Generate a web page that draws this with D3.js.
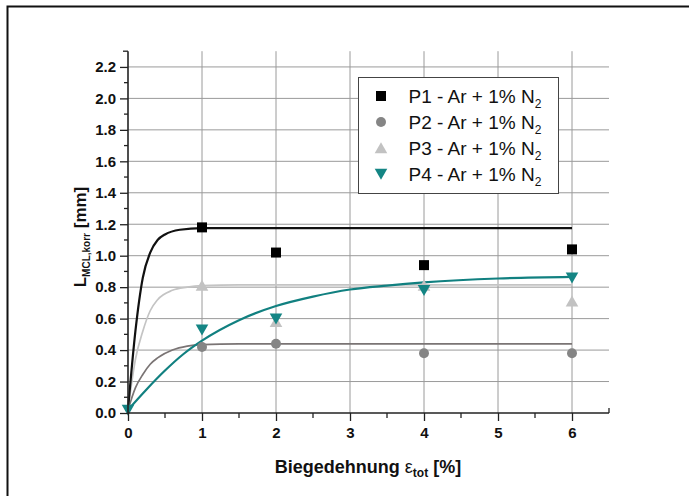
<!DOCTYPE html>
<html>
<head>
<meta charset="utf-8">
<script src="https://cdn.jsdelivr.net/npm/d3@7"></script>
<style>
  body { margin: 0; background: #fff; }
  svg text { font-family: "Liberation Sans", Arial, sans-serif; }
</style>
</head>
<body>
<div class="chart"></div>
<script>
// measured points (strain in %, length in mm)
const p1Strain = [1, 2, 4, 6];
const p1Values = [1.18, 1.02, 0.94, 1.04];
const p2Strain = [1, 2, 4, 6];
const p2Values = [0.42, 0.44, 0.38, 0.38];
const p3Strain = [1, 2, 4, 6];
const p3Values = [0.81, 0.58, 0.81, 0.71];
const p4Strain = [0, 1, 2, 4, 6];
const p4Values = [0.02, 0.53, 0.60, 0.78, 0.86];

// fitted curves
const p1CurveX = [0, 0.1, 0.2, 0.3, 0.4, 0.5, 0.7, 1, 6];
const p1CurveY = [0.02, 0.52, 0.86, 1.02, 1.10, 1.135, 1.165, 1.175, 1.175];
const p2CurveX = [0, 0.1, 0.2, 0.3, 0.4, 0.6, 0.8, 1, 1.5, 6];
const p2CurveY = [0.02, 0.16, 0.245, 0.31, 0.35, 0.40, 0.425, 0.435, 0.44, 0.44];
const p3CurveX = [0, 0.1, 0.2, 0.3, 0.4, 0.6, 0.8, 1, 1.5, 6];
const p3CurveY = [0.02, 0.34, 0.52, 0.65, 0.72, 0.78, 0.80, 0.81, 0.815, 0.815];
const p4CurveX = [0, 0.25, 0.5, 0.75, 1, 1.5, 2, 2.5, 3, 3.5, 4, 5, 6];
const p4CurveY = [0.02, 0.15, 0.27, 0.375, 0.46, 0.59, 0.68, 0.74, 0.785, 0.81, 0.83, 0.855, 0.865];

const xTicks = [0, 1, 2, 3, 4, 5, 6];
const yTicks = [0, 0.2, 0.4, 0.6, 0.8, 1.0, 1.2, 1.4, 1.6, 1.8, 2.0, 2.2];
const legendLabels = ['P1 - Ar + 1% N', 'P2 - Ar + 1% N', 'P3 - Ar + 1% N', 'P4 - Ar + 1% N'];

const svg = d3.select('.chart')
    .append('svg')
    .attr('width', 689)
    .attr('height', 496);

// outer frame
svg.append('rect')
    .attr('x', 7.5).attr('y', 6.5)
    .attr('width', 720).attr('height', 520)
    .attr('fill', 'none')
    .attr('stroke', '#111')
    .attr('stroke-width', 2);

const x = d3.scaleLinear().domain([0, 6.5]).range([128, 609]);
const y = d3.scaleLinear().domain([0, 2.3]).range([413, 51.2]);

// grid
svg.append('g').selectAll('line')
    .data(xTicks.slice(1))
    .join('line')
    .attr('x1', d => x(d)).attr('x2', d => x(d))
    .attr('y1', y(0)).attr('y2', y(2.3))
    .attr('stroke', '#9a9a9a').attr('stroke-width', 1);
svg.append('g').selectAll('line')
    .data(yTicks.slice(1))
    .join('line')
    .attr('x1', x(0)).attr('x2', x(6.5))
    .attr('y1', d => y(d)).attr('y2', d => y(d))
    .attr('stroke', '#9a9a9a').attr('stroke-width', 1);

// curves
const line = d3.line()
    .x(d => x(d[0]))
    .y(d => y(d[1]))
    .curve(d3.curveMonotoneX);

function drawCurve(xs, ys, color, width) {
    svg.append('path')
        .datum(d3.zip(xs, ys))
        .attr('fill', 'none')
        .attr('stroke', color)
        .attr('stroke-width', width)
        .attr('d', line);
}
drawCurve(p2CurveX, p2CurveY, '#7a7474', 1.7);
drawCurve(p3CurveX, p3CurveY, '#c4c4c4', 1.7);
drawCurve(p1CurveX, p1CurveY, '#111', 2.2);
drawCurve(p4CurveX, p4CurveY, '#118080', 2.2);

// markers
const shapes = {
    square: 'M-5,-5H5V5H-5Z',
    circle: d3.symbol(d3.symbolCircle, 78)(),
    up: 'M0,-5.8L6.3,5.2L-6.3,5.2Z',
    down: 'M0,5.8L6.3,-5.2L-6.3,-5.2Z'
};
function drawMarkers(xs, ys, shape, color) {
    svg.append('g').selectAll('path')
        .data(d3.zip(xs, ys))
        .join('path')
        .attr('transform', d => `translate(${x(d[0])},${y(d[1])})`)
        .attr('d', shapes[shape])
        .attr('fill', color);
}
drawMarkers(p1Strain, p1Values, 'square', '#000');
drawMarkers(p2Strain, p2Values, 'circle', '#858585');
drawMarkers(p3Strain, p3Values, 'up', '#c2c2c2');
drawMarkers(p4Strain, p4Values, 'down', '#148584');

// axes
const xAxis = svg.append('g')
    .attr('transform', `translate(0,${y(0)})`)
    .call(d3.axisBottom(x).tickValues(xTicks).tickFormat(d3.format('d')).tickSize(8).tickPadding(6));
xAxis.append('g').selectAll('line')
    .data(d3.range(0.5, 6.5, 1))
    .join('line')
    .attr('x1', d => x(d)).attr('x2', d => x(d))
    .attr('y1', 0).attr('y2', 5)
    .attr('stroke', '#222').attr('stroke-width', 1.3);
xAxis.append('line')
    .attr('x1', x(6.5)).attr('x2', x(6.5))
    .attr('y1', 0).attr('y2', -5)
    .attr('stroke', '#222').attr('stroke-width', 1.3);

const yAxis = svg.append('g')
    .attr('transform', `translate(${x(0)},0)`)
    .call(d3.axisLeft(y).tickValues(yTicks).tickFormat(d3.format('.1f')).tickSize(8).tickPadding(4));
yAxis.append('g').selectAll('line')
    .data(d3.range(0.1, 2.3, 0.2))
    .join('line')
    .attr('x1', 0).attr('x2', -4)
    .attr('y1', d => y(d)).attr('y2', d => y(d))
    .attr('stroke', '#222').attr('stroke-width', 1.3);
yAxis.append('line')
    .attr('x1', 0).attr('x2', -5)
    .attr('y1', y(2.3)).attr('y2', y(2.3))
    .attr('stroke', '#222').attr('stroke-width', 1.3);

xAxis.select('.domain').attr('d', `M${x(0)},0H${x(6.5)}`);
yAxis.select('.domain').attr('d', `M0,${y(0)}V${y(2.3)}`);
svg.selectAll('.domain').attr('stroke', '#222').attr('stroke-width', 1.6);
svg.selectAll('.tick line').attr('stroke', '#222').attr('stroke-width', 1.3);
svg.selectAll('.tick text')
    .style('font-size', '15px')
    .style('font-weight', 'bold')
    .attr('fill', '#111');

// axis titles
const xTitle = svg.append('text')
    .attr('x', 368).attr('y', 473)
    .attr('text-anchor', 'middle')
    .style('font-size', '18px')
    .style('font-weight', 'bold')
    .attr('fill', '#111');
xTitle.append('tspan').text('Biegedehnung ');
xTitle.append('tspan').style('font-weight', 'normal').text('ε');
xTitle.append('tspan').attr('dy', 4).style('font-size', '12px').text('tot');
xTitle.append('tspan').attr('dy', -4).text(' [%]');

const yTitle = svg.append('text')
    .attr('transform', 'translate(86,237) rotate(-90)')
    .attr('text-anchor', 'middle')
    .style('font-size', '17px')
    .style('font-weight', 'bold')
    .attr('fill', '#111');
yTitle.append('tspan').text('L');
yTitle.append('tspan').attr('dy', 4).style('font-size', '10px').text('MCL,korr');
yTitle.append('tspan').attr('dy', -4).text(' [mm]');

// legend
const legend = svg.append('g').attr('transform', 'translate(358.5,77.5)');
legend.append('rect')
    .attr('width', 200).attr('height', 116)
    .attr('fill', '#fff')
    .attr('stroke', '#444')
    .attr('stroke-width', 1);
const legendShapes = ['square', 'circle', 'up', 'down'];
const legendColors = ['#000', '#858585', '#c2c2c2', '#148584'];
legendLabels.forEach((label, i) => {
    const cy = 18.5 + i * 26;
    legend.append('path')
        .attr('transform', `translate(22.5,${cy})`)
        .attr('d', shapes[legendShapes[i]])
        .attr('fill', legendColors[i]);
    const t = legend.append('text')
        .attr('x', 50).attr('y', cy + 7)
        .style('font-size', '19px')
        .attr('fill', '#111');
    t.append('tspan').text(label);
    t.append('tspan').attr('dy', 5).style('font-size', '12px').text('2');
});
</script>
</body>
</html>
